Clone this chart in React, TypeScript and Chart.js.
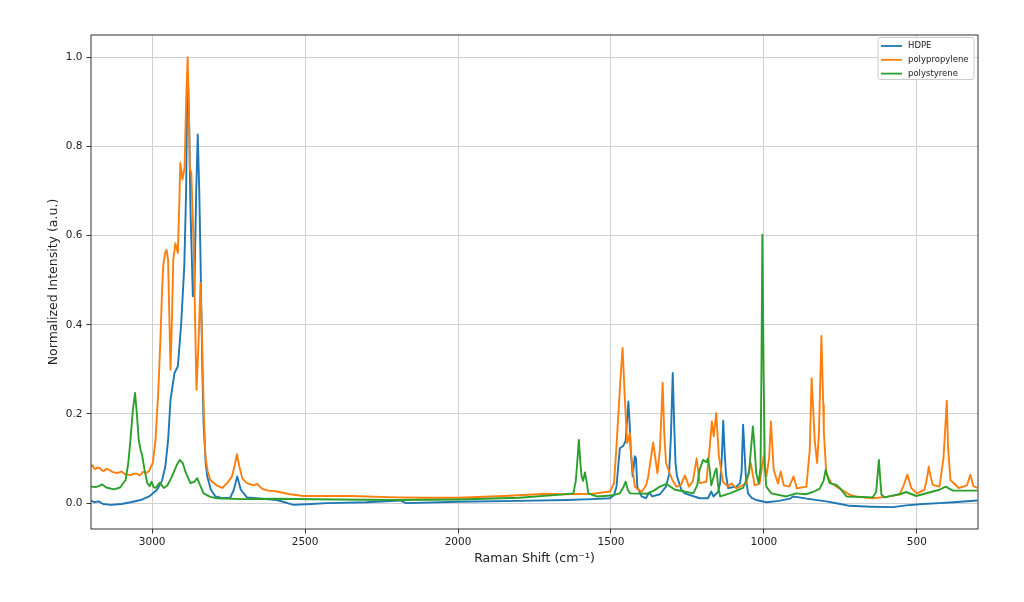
import React, { useEffect, useRef } from 'react';
import { Chart, registerables } from 'chart.js';

Chart.register(...registerables);

// axis ticks
const xTicks = [3000, 2500, 2000, 1500, 1000, 500];
const yTicks = [0, 0.2, 0.4, 0.6, 0.8, 1.0];

const seriesNames = ['HDPE', 'polypropylene', 'polystyrene'];
const seriesColors = ['#1f77b4', '#ff7f0e', '#2ca02c'];

// [Raman shift, normalized intensity]
const hdpe: [number, number][] = [
  [3200, 0.006], [3190, 0.002], [3175, 0.004], [3160, -0.002], [3136, -0.004], [3100, -0.002],
  [3070, 0.002], [3038, 0.007], [3010, 0.015], [2984, 0.03], [2968, 0.05], [2957, 0.082],
  [2948, 0.14], [2940, 0.232], [2927, 0.292], [2916, 0.307], [2905, 0.404], [2895, 0.531],
  [2889, 0.7], [2886, 0.89], [2883, 0.95], [2879, 0.85], [2875, 0.666], [2867, 0.464],
  [2862, 0.48], [2856, 0.7], [2851, 0.827], [2846, 0.7], [2842, 0.55], [2836, 0.3],
  [2832, 0.18], [2825, 0.09], [2820, 0.06], [2808, 0.03], [2793, 0.015], [2770, 0.011],
  [2745, 0.012], [2733, 0.03], [2722, 0.06], [2710, 0.03], [2690, 0.013], [2640, 0.01],
  [2592, 0.007], [2538, -0.004], [2480, -0.002], [2429, 0.0], [2300, 0.002], [2189, 0.006],
  [2170, 0.0], [2000, 0.003], [1800, 0.005], [1645, 0.007], [1560, 0.009], [1503, 0.011],
  [1490, 0.018], [1482, 0.037], [1474, 0.1], [1471, 0.123], [1460, 0.128], [1452, 0.14],
  [1447, 0.19], [1443, 0.228], [1439, 0.18], [1436, 0.125], [1429, 0.06], [1422, 0.105],
  [1418, 0.1], [1414, 0.037], [1400, 0.015], [1386, 0.011], [1375, 0.024], [1365, 0.015],
  [1340, 0.02], [1320, 0.037], [1310, 0.065], [1304, 0.15], [1298, 0.292], [1293, 0.17],
  [1289, 0.09], [1284, 0.06], [1270, 0.03], [1259, 0.022], [1210, 0.011], [1183, 0.011],
  [1172, 0.026], [1165, 0.015], [1150, 0.025], [1143, 0.045], [1137, 0.11], [1133, 0.185],
  [1128, 0.11], [1124, 0.065], [1117, 0.034], [1090, 0.037], [1078, 0.045], [1073, 0.07],
  [1068, 0.176], [1063, 0.11], [1059, 0.06], [1052, 0.022], [1040, 0.012], [1025, 0.007],
  [992, 0.002], [950, 0.005], [915, 0.01], [905, 0.015], [895, 0.014], [860, 0.01],
  [796, 0.004], [750, -0.002], [720, -0.006], [650, -0.008], [578, -0.009], [535, -0.005],
  [480, -0.002], [426, 0.0], [380, 0.002], [302, 0.006],
];

const polypropylene: [number, number][] = [
  [3200, 0.082], [3195, 0.085], [3190, 0.078], [3185, 0.076], [3180, 0.08], [3172, 0.079],
  [3165, 0.074], [3158, 0.072], [3150, 0.077], [3142, 0.075], [3130, 0.07], [3120, 0.068],
  [3110, 0.068], [3100, 0.071], [3093, 0.067], [3085, 0.064], [3070, 0.063], [3060, 0.066],
  [3050, 0.066], [3040, 0.062], [3030, 0.07], [3020, 0.068], [3011, 0.071],
  [2998, 0.09], [2989, 0.142], [2980, 0.25], [2973, 0.367], [2968, 0.47], [2964, 0.531],
  [2958, 0.56], [2953, 0.568], [2948, 0.546], [2944, 0.42], [2940, 0.299], [2935, 0.42],
  [2931, 0.546], [2924, 0.583], [2916, 0.561], [2911, 0.68], [2908, 0.763], [2901, 0.726],
  [2894, 0.753], [2889, 0.9], [2884, 1.0], [2880, 0.88], [2877, 0.753], [2872, 0.74],
  [2864, 0.57], [2858, 0.35], [2855, 0.254], [2848, 0.367], [2842, 0.494], [2837, 0.367],
  [2831, 0.2], [2826, 0.105], [2818, 0.07], [2810, 0.052], [2790, 0.04], [2771, 0.034],
  [2755, 0.045], [2739, 0.06], [2730, 0.085], [2723, 0.11], [2716, 0.085], [2705, 0.055],
  [2690, 0.045], [2670, 0.04], [2657, 0.043], [2640, 0.032], [2620, 0.028], [2592, 0.026],
  [2550, 0.02], [2505, 0.016], [2400, 0.016], [2350, 0.016], [2200, 0.013], [2100, 0.012],
  [1999, 0.012], [1850, 0.016], [1710, 0.021], [1666, 0.02], [1558, 0.021], [1503, 0.026],
  [1490, 0.045], [1482, 0.127], [1474, 0.22], [1469, 0.277], [1462, 0.348], [1455, 0.24],
  [1447, 0.135], [1438, 0.157], [1433, 0.1], [1422, 0.037], [1400, 0.025], [1385, 0.04],
  [1378, 0.06], [1362, 0.136], [1348, 0.067], [1340, 0.12], [1335, 0.2], [1331, 0.27],
  [1326, 0.16], [1320, 0.09], [1308, 0.067], [1298, 0.05], [1286, 0.037], [1272, 0.04],
  [1258, 0.062], [1245, 0.037], [1232, 0.05], [1220, 0.1], [1210, 0.045], [1188, 0.048],
  [1177, 0.127], [1170, 0.183], [1164, 0.15], [1156, 0.202], [1147, 0.105], [1134, 0.048],
  [1117, 0.037], [1106, 0.044], [1090, 0.033], [1058, 0.044], [1043, 0.09], [1030, 0.04],
  [1014, 0.044], [1001, 0.105], [992, 0.06], [983, 0.1], [977, 0.183], [968, 0.075],
  [954, 0.044], [945, 0.071], [935, 0.04], [917, 0.037], [903, 0.06], [892, 0.033],
  [861, 0.037], [850, 0.12], [844, 0.28], [838, 0.2], [834, 0.142], [826, 0.09],
  [820, 0.157], [812, 0.375], [806, 0.22], [804, 0.16], [796, 0.067], [780, 0.045],
  [763, 0.037], [720, 0.019], [700, 0.015], [644, 0.011], [600, 0.014], [556, 0.019],
  [543, 0.04], [531, 0.064], [518, 0.034], [500, 0.022], [475, 0.03], [467, 0.055],
  [461, 0.082], [455, 0.06], [448, 0.041], [426, 0.037], [413, 0.1], [406, 0.18],
  [402, 0.23], [398, 0.127], [390, 0.052], [363, 0.034], [336, 0.04], [325, 0.064],
  [315, 0.038], [302, 0.034],
];

const polystyrene: [number, number][] = [
  [3200, 0.037], [3185, 0.036], [3175, 0.038], [3163, 0.042], [3150, 0.035], [3125, 0.031],
  [3105, 0.035], [3087, 0.052], [3078, 0.09], [3071, 0.142], [3063, 0.21], [3056, 0.247],
  [3050, 0.2], [3044, 0.142], [3038, 0.12], [3033, 0.108], [3025, 0.075], [3016, 0.045],
  [3008, 0.038], [3002, 0.048], [2995, 0.036], [2989, 0.034], [2975, 0.046], [2962, 0.034],
  [2950, 0.04], [2935, 0.06], [2920, 0.085], [2910, 0.097], [2900, 0.09], [2891, 0.07],
  [2875, 0.045], [2862, 0.048], [2853, 0.056], [2843, 0.04], [2832, 0.022], [2810, 0.014],
  [2788, 0.011], [2712, 0.009], [2600, 0.01], [2400, 0.008], [2200, 0.007], [2000, 0.008],
  [1800, 0.012], [1664, 0.019], [1623, 0.022], [1615, 0.05], [1612, 0.075], [1605, 0.142],
  [1600, 0.09], [1596, 0.06], [1591, 0.05], [1585, 0.069], [1580, 0.05], [1574, 0.022],
  [1547, 0.015], [1500, 0.017], [1471, 0.022], [1460, 0.035], [1452, 0.048], [1445, 0.03],
  [1438, 0.022], [1384, 0.021], [1360, 0.028], [1340, 0.037], [1318, 0.043], [1291, 0.03],
  [1260, 0.026], [1231, 0.022], [1218, 0.04], [1210, 0.075], [1199, 0.097], [1188, 0.092],
  [1183, 0.1], [1178, 0.08], [1172, 0.04], [1160, 0.07], [1155, 0.078], [1150, 0.04],
  [1143, 0.015], [1111, 0.022], [1068, 0.034], [1049, 0.067], [1040, 0.14], [1036, 0.172],
  [1030, 0.12], [1025, 0.067], [1017, 0.045], [1011, 0.08], [1008, 0.3], [1005, 0.602],
  [1001, 0.3], [997, 0.08], [992, 0.037], [976, 0.022], [927, 0.015], [894, 0.022],
  [861, 0.02], [840, 0.025], [818, 0.032], [805, 0.05], [798, 0.075], [790, 0.055],
  [785, 0.045], [763, 0.041], [752, 0.034], [730, 0.015], [644, 0.013], [633, 0.025],
  [624, 0.097], [616, 0.02], [606, 0.013], [551, 0.021], [535, 0.025], [502, 0.016],
  [426, 0.03], [406, 0.037], [382, 0.028], [317, 0.028], [302, 0.028],
];

const FONT = "'DejaVu Sans', sans-serif";

// box round the plot area + matplotlib style legend in the upper right
const frameLegend = {
  id: 'frameLegend',
  afterDraw(chart: Chart) {
    const { ctx, chartArea: a } = chart;
    ctx.save();
    ctx.strokeStyle = '#333';
    ctx.lineWidth = 1;
    ctx.strokeRect(a.left, a.top, a.right - a.left, a.bottom - a.top);

    const bw = 96, bh = 42;
    const bx = a.right - bw - 4, by = a.top + 2.5;
    ctx.beginPath();
    if ((ctx as any).roundRect) (ctx as any).roundRect(bx, by, bw, bh, 2);
    else ctx.rect(bx, by, bw, bh);
    ctx.fillStyle = 'rgba(255,255,255,0.8)';
    ctx.fill();
    ctx.strokeStyle = '#cccccc';
    ctx.stroke();

    ctx.font = `8.5px ${FONT}`;
    ctx.textBaseline = 'middle';
    ctx.textAlign = 'left';
    seriesNames.forEach((name, i) => {
      const ry = by + 8.5 + i * 13.8;
      ctx.strokeStyle = seriesColors[i];
      ctx.lineWidth = 1.8;
      ctx.beginPath();
      ctx.moveTo(bx + 3, ry);
      ctx.lineTo(bx + 24, ry);
      ctx.stroke();
      ctx.fillStyle = '#222';
      ctx.fillText(name, bx + 30, ry);
    });
    ctx.restore();
  },
};

const App: React.FC = () => {
  const canvasRef = useRef<HTMLCanvasElement>(null);
  const chartRef = useRef<Chart | null>(null);

  useEffect(() => {
    if (!canvasRef.current) return;
    const ctx = canvasRef.current.getContext('2d');
    if (!ctx) return;

    if (chartRef.current) {
      chartRef.current.destroy();
      chartRef.current = null;
    }

    const series = [hdpe, polypropylene, polystyrene];

    chartRef.current = new Chart(ctx, {
      type: 'line',
      data: {
        datasets: series.map((pts, i) => ({
          label: seriesNames[i],
          data: pts.map(([x, y]) => ({ x, y })),
          borderColor: seriesColors[i],
          backgroundColor: seriesColors[i],
          borderWidth: 1.9,
          borderJoinStyle: 'round' as const,
          pointRadius: 0,
          tension: 0,
          fill: false,
          order: 3 - i,
        })),
      },
      options: {
        animation: false,
        responsive: true,
        maintainAspectRatio: false,
        layout: { padding: { left: 0, right: 46, top: 35, bottom: 36 } },
        plugins: {
          legend: { display: false },
          tooltip: { enabled: false },
        },
        scales: {
          x: {
            type: 'linear',
            reverse: true,
            min: 300,
            max: 3200,
            afterBuildTicks: (s: any) => {
              s.ticks = xTicks.map((v) => ({ value: v }));
            },
            afterFit: (s: any) => {
              s.height = 37;
            },
            border: { display: false },
            grid: { color: '#d0d0d0', lineWidth: 1, tickColor: '#333', tickLength: 4.5 },
            ticks: {
              autoSkip: false,
              maxRotation: 0,
              padding: 2,
              color: '#222',
              font: { family: FONT, size: 10.5 },
              callback: (v: any) => String(v),
            },
            title: {
              display: true,
              text: 'Raman Shift (cm⁻¹)',
              color: '#222',
              font: { family: FONT, size: 12.5 },
              padding: { top: 0, bottom: 0 },
            },
          },
          y: {
            type: 'linear',
            min: -0.058,
            max: 1.05,
            afterBuildTicks: (s: any) => {
              s.ticks = yTicks.map((v) => ({ value: v }));
            },
            afterFit: (s: any) => {
              s.width = 91;
            },
            border: { display: false },
            grid: { color: '#d0d0d0', lineWidth: 1, tickColor: '#333', tickLength: 4.5 },
            ticks: {
              autoSkip: false,
              padding: 4,
              color: '#222',
              font: { family: FONT, size: 10.5 },
              callback: (v: any) => Number(v).toFixed(1),
            },
            title: {
              display: true,
              text: 'Normalized Intensity (a.u.)',
              color: '#222',
              font: { family: FONT, size: 12.5 },
              padding: { top: 46.5, bottom: 0 },
            },
          },
        },
      },
      plugins: [frameLegend],
    });

    return () => {
      if (chartRef.current) {
        chartRef.current.destroy();
        chartRef.current = null;
      }
    };
  }, []);

  return (
    <div style={{ position: 'fixed', left: 0, top: 0, width: 1024, height: 602, background: '#fff' }}>
      <canvas ref={canvasRef}></canvas>
    </div>
  );
};

export default App;
